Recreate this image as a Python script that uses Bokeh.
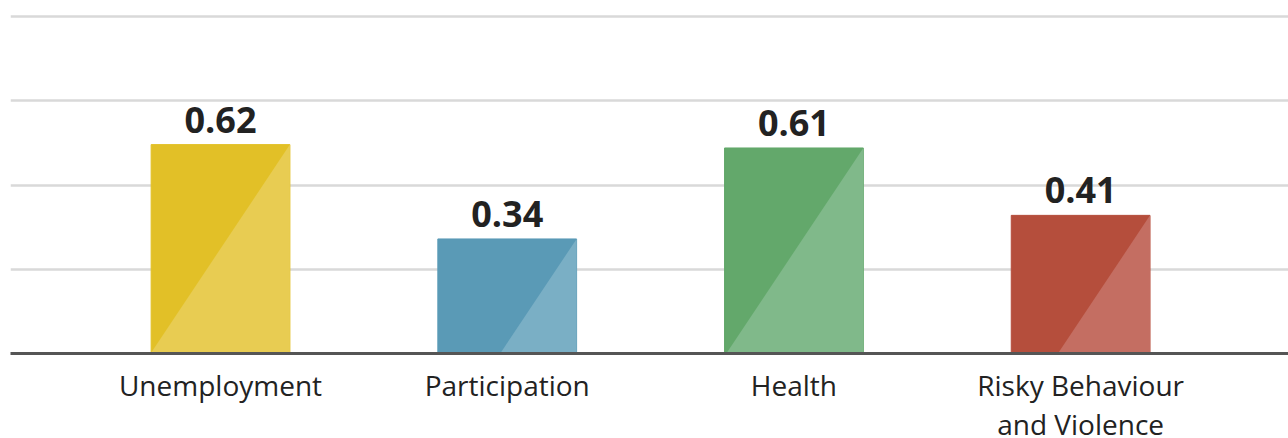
from bokeh.plotting import figure
from bokeh.models import ColumnDataSource, Range1d, FixedTicker, Grid, LabelSet
from bokeh.core.properties import value
from bokeh.embed import file_html
from bokeh.resources import INLINE

# ---- data ----
categories = ["Unemployment", "Participation", "Health", "Risky Behaviour\nand Violence"]
values = [0.62, 0.34, 0.61, 0.41]
value_labels = ["0.62", "0.34", "0.61", "0.41"]
dark_colors = ["#E2C027", "#5A9AB6", "#63A86B", "#B54E3C"]
light_colors = ["#E8CC52", "#7AAFC5", "#80B98A", "#C46E62"]
grid_ticks = [0.25, 0.5, 0.75, 1.0]

# ---- layout ----
W, H = 1288, 438
FRAME_W, FRAME_H = 1278, 345
X0, X1 = -0.7325, 3.725
Y0, Y1 = 0.0, 1.024
BAR_W = 0.484
SLOPE = 1.5  # vertical px per horizontal px of the light diagonal

xs = list(range(len(categories)))

p = figure(width=W, height=H, output_backend="svg", toolbar_location=None,
           x_range=Range1d(X0, X1), y_range=Range1d(Y0, Y1),
           y_axis_location=None, min_border_left=10, min_border_right=0,
           min_border_top=8, min_border_bottom=85,
           frame_width=FRAME_W, frame_height=FRAME_H)
p.outline_line_color = None
p.background_fill_color = "white"
p.border_fill_color = "white"
p.xgrid.visible = False
p.ygrid.visible = False

p.add_layout(Grid(dimension=1, ticker=FixedTicker(ticks=grid_ticks),
                  grid_line_color="#D9D9D9", grid_line_width=2.5))

src = ColumnDataSource(dict(x=xs, top=values, color=dark_colors,
                            label=value_labels))
p.vbar(x="x", top="top", width=BAR_W, color="color", source=src)

# light diagonal triangles
px_per_x = FRAME_W / (X1 - X0)
px_per_y = FRAME_H / (Y1 - Y0)
tri_x, tri_y = [], []
for x, v in zip(xs, values):
    right = x + BAR_W / 2
    left = x - BAR_W / 2
    dx = v * px_per_y / SLOPE / px_per_x
    if dx <= BAR_W:
        tri_x.append([right, right, right - dx])
        tri_y.append([v, 0, 0])
    else:
        yl = v - BAR_W * px_per_x * SLOPE / px_per_y
        tri_x.append([right, right, left, left])
        tri_y.append([v, 0, 0, yl])
p.patches(tri_x, tri_y, fill_color=light_colors, line_color=None)

labels = LabelSet(x="x", y="top", text="label", source=src, y_offset=12,
                  text_align="center", text_baseline="alphabetic",
                  text_font=value("Open Sans"), text_font_style="bold",
                  text_font_size="36px", text_color="#222222")
p.add_layout(labels)

ax = p.xaxis[0]
ax.ticker = FixedTicker(ticks=xs)
ax.major_label_overrides = {x: c for x, c in zip(xs, categories)}
ax.axis_line_color = "#555555"
ax.axis_line_width = 3
ax.major_tick_line_color = None
ax.minor_tick_line_color = None
ax.major_label_text_font = "Open Sans"
ax.major_label_text_font_size = "28px"
ax.major_label_text_color = "#222222"
ax.major_label_standoff = 6
ax.major_label_text_line_height = 1.05

open("out.html", "w").write(file_html(p, INLINE))
